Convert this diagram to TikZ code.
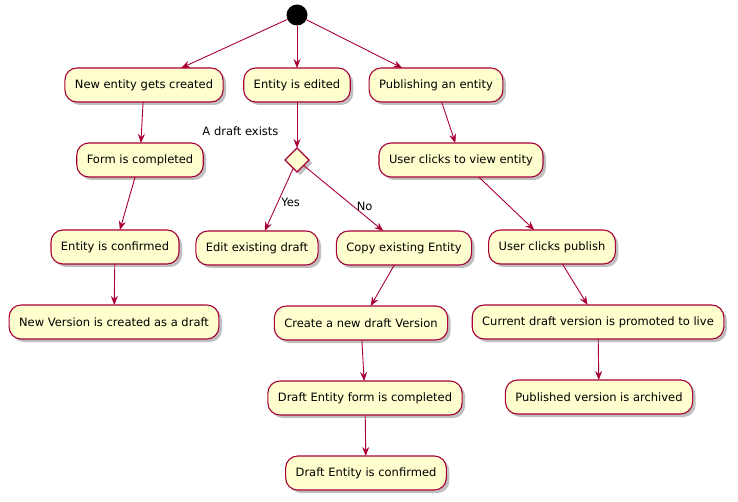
\documentclass[tikz,border=0pt]{standalone}
\usepackage{fontspec}
\setmainfont{DejaVu Sans}
\usetikzlibrary{arrows.meta,positioning,shapes.geometric,shadows}
\definecolor{umlfill}{HTML}{FEFECE}
\definecolor{umlline}{HTML}{A80036}

\begin{document}
\begin{tikzpicture}[
    x=1pt, y=-1pt,
    font=\fontsize{11.5}{13}\selectfont,
    >={Stealth[length=9pt,width=7pt,inset=3pt]},
    activity/.style={rectangle, rounded corners=12pt, draw=umlline, line width=1.1pt, fill=umlfill,
      minimum height=34pt, inner xsep=10pt, outer sep=0pt,
      drop shadow={shadow xshift=3pt, shadow yshift=-3pt, fill=black, opacity=0.25}},
    check/.style={diamond, draw=umlline, line width=1.1pt, fill=umlfill, inner sep=0pt, outer sep=0pt,
      minimum size=24pt,
      drop shadow={shadow xshift=3pt, shadow yshift=-3pt, fill=black, opacity=0.25}},
    startdot/.style={circle, fill=black, inner sep=0pt, minimum size=21pt},
    flow/.style={draw=umlline, line width=0.9pt, ->}
    ]
    \useasboundingbox (0,0) rectangle (738,502);

    % Top: start and the three flows
    \node[startdot] (start) at (297,15) {};
    \node[activity] (created) at (144,85) {New entity gets created};
    \node[activity] (edited) at (297,85) {Entity is edited};
    \node[activity] (publish) at (436,85) {Publishing an entity};

    % Left: creating an entity
    \node[activity, below=41pt of created, xshift=-4pt] (form) {Form is completed};
    \node[activity, below=53pt of form, xshift=-25pt] (confirmed) {Entity is confirmed};
    \node[activity, below=41pt of confirmed, xshift=-1pt] (newversion) {New Version is created as a draft};

    % Middle: editing, with the draft check
    \node[check, below=46pt of edited] (draftcheck) {};
    \node[above left=9pt and 15pt of draftcheck.north] (draftlabel) {A draft exists};
    \node[activity, below=59pt of draftcheck, xshift=-40pt] (editdraft) {Edit existing draft};
    \node[activity, below=59pt of draftcheck, xshift=107pt] (copy) {Copy existing Entity};
    \node[activity, below=41pt of copy, xshift=-43pt] (newdraft) {Create a new draft Version};
    \node[activity, below=41pt of newdraft, xshift=4pt] (draftform) {Draft Entity form is completed};
    \node[activity, below=41pt of draftform, xshift=1pt] (draftconfirmed) {Draft Entity is confirmed};

    % Right: publishing
    \node[activity, below=41pt of publish, xshift=25pt] (view) {User clicks to view entity};
    \node[activity, below=53pt of view, xshift=91pt] (clickpub) {User clicks publish};
    \node[activity, below=41pt of clickpub, xshift=46pt] (promoted) {Current draft version is promoted to live};
    \node[activity, below=41pt of promoted, xshift=1pt] (archived) {Published version is archived};

    % Arrows
    \draw[flow] (start) -- (created);
    \draw[flow] (start) -- (edited);
    \draw[flow] (start) -- (publish);

    \draw[flow] (created) -- (form);
    \draw[flow] (form) -- (confirmed);
    \draw[flow] (confirmed) -- (newversion);

    \draw[flow] (edited) -- (draftcheck);
    \draw[flow] (draftcheck) -- node[right, pos=0.55] {Yes} (editdraft);
    \draw[flow] (draftcheck) -- node[right, pos=0.62] {No} (copy);
    \draw[flow] (copy) -- (newdraft);
    \draw[flow] (newdraft) -- (draftform);
    \draw[flow] (draftform) -- (draftconfirmed);

    \draw[flow] (publish) -- (view);
    \draw[flow] (view) -- (clickpub);
    \draw[flow] (clickpub) -- (promoted);
    \draw[flow] (promoted) -- (archived);

  \end{tikzpicture}
\end{document}
